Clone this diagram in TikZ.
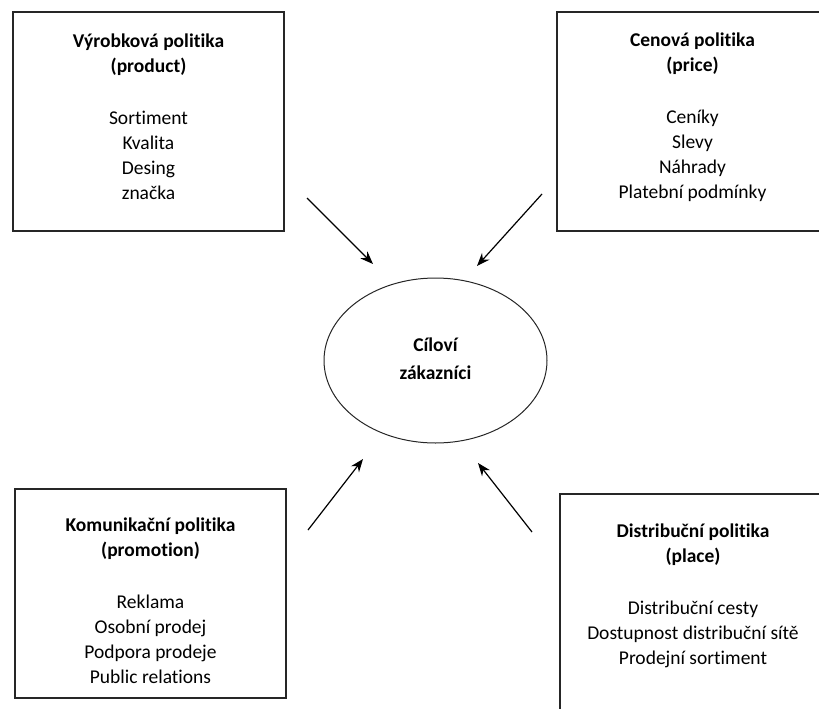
\documentclass[tikz,border=0pt]{standalone}
\usepackage{fontspec}
\setmainfont{Carlito}[Ligatures=NoCommon]
\usetikzlibrary{shapes.geometric,arrows.meta}
\begin{document}
\begin{tikzpicture}[x=1pt,y=-1pt,
  box/.style={draw=black!85, line width=1.3pt, rectangle, inner sep=0pt},
  txt/.style={align=center, font=\fontsize{19.5}{25}\selectfont, inner sep=0pt},
  oval/.style={draw=black!85, line width=1pt, ellipse, inner sep=0pt, minimum width=223pt, minimum height=165pt},
  arr/.style={line width=1.2pt, -{Stealth[length=13pt,width=10pt]}}]
\useasboundingbox (0,0) rectangle (819,709);
\clip (0,0) rectangle (819,709);
% boxes
\node[box, minimum width=271pt, minimum height=219pt] (prod) at (148.5,121.5) {};
\node[box, minimum width=271pt, minimum height=219pt] (price) at (692.5,121.5) {};
\node[box, minimum width=271pt, minimum height=209pt] (prom) at (150.5,593.5) {};
\node[box, minimum width=266pt, minimum height=240pt] (place) at (693,614) {};
% texts
\node[txt] (prodt) at (148.5,117) {\textbf{Výrobková politika}\\\textbf{(product)}\\[27pt]Sortiment\\Kvalita\\Desing\\značka};
\node[txt] (pricet) at (692.5,117) {\textbf{Cenová politika}\\\textbf{(price)}\\[27pt]Ceníky\\Slevy\\Náhrady\\Platební podmínky};
\node[txt] (promt) at (150.5,601) {\textbf{Komunikační politika}\\\textbf{(promotion)}\\[27pt]Reklama\\Osobní prodej\\Podpora prodeje\\Public relations};
\node[txt] (placet) at (693,596) {\textbf{Distribuční politika}\\\textbf{(place)}\\[27pt]Distribuční cesty\\Dostupnost distribuční sítě\\Prodejní sortiment};
% center
\node[oval] (cust) at (435.5,360.5) {};
\node[txt, font=\fontsize{19.5}{28}\selectfont\bfseries] (custt) at (435.5,359) {Cíloví\\zákazníci};
% arrows
\coordinate (a1s) at (307,198); \coordinate (a1e) at (373,264);
\coordinate (a2s) at (542,194); \coordinate (a2e) at (477,266);
\coordinate (a3s) at (308,530); \coordinate (a3e) at (363,459);
\coordinate (a4s) at (532,532); \coordinate (a4e) at (478,463);
\draw[arr] (a1s) -- (a1e);
\draw[arr] (a2s) -- (a2e);
\draw[arr] (a3s) -- (a3e);
\draw[arr] (a4s) -- (a4e);
\end{tikzpicture}
\end{document}
